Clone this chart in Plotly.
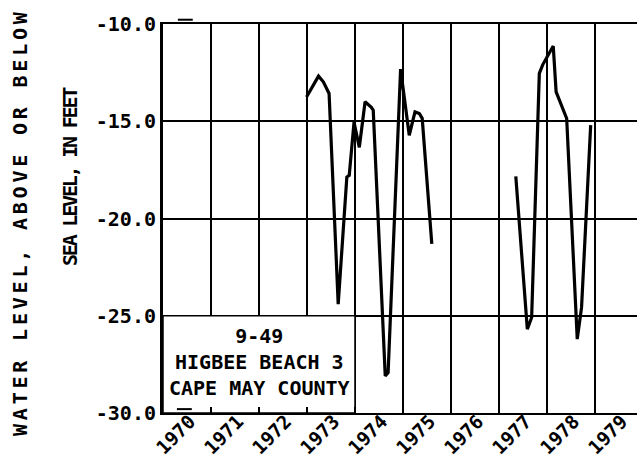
import plotly.graph_objects as go

years = [1970, 1971, 1972, 1973, 1974, 1975, 1976, 1977, 1978, 1979]
year_labels = [str(y) for y in years]
y_ticks = [-10, -15, -20, -25, -30]
y_tick_labels = ["-10.0", "-15.0", "-20.0", "-25.0", "-30.0"]

seg1_x = [1972.99, 1973.24, 1973.34, 1973.46, 1973.65, 1973.83, 1973.88, 1973.98,
          1974.09, 1974.21, 1974.34, 1974.38, 1974.63, 1974.69, 1974.95, 1975.01,
          1975.13, 1975.25, 1975.34, 1975.40, 1975.60]
seg1_y = [-13.75, -12.68, -12.97, -13.57, -24.4, -17.87, -17.78, -15.05,
          -16.34, -14.0, -14.28, -14.43, -28.09, -27.92, -12.32, -13.4,
          -15.72, -14.52, -14.6, -14.85, -21.3]

seg2_x = [1977.35, 1977.59, 1977.68, 1977.84, 1977.91, 1978.13, 1978.19, 1978.41,
          1978.63, 1978.72, 1978.91]
seg2_y = [-17.84, -25.69, -25.09, -12.54, -12.1, -11.13, -13.49, -14.86,
          -26.2, -24.57, -15.2]

title_line1 = "WATER LEVEL, ABOVE OR BELOW"
title_line2 = "SEA LEVEL, IN FEET"
box_text = ["9-49", "HIGBEE BEACH 3", "CAPE MAY COUNTY"]

FONT = "DejaVu Sans Mono"

fig = go.Figure()
for xs, ys in [(seg1_x, seg1_y), (seg2_x, seg2_y)]:
    fig.add_trace(go.Scatter(x=xs, y=ys, mode="lines",
                             line=dict(color="black", width=3.2),
                             showlegend=False, hoverinfo="skip"))

fig.update_layout(
    width=637, height=463,
    margin=dict(l=163, r=0, t=24, b=50, autoexpand=False),
    paper_bgcolor="white", plot_bgcolor="white",
    showlegend=False,
    xaxis=dict(range=[1970, 1979.875], tickmode="array", tickvals=years,
               ticktext=year_labels, tickangle=-45, ticklabelshift=27,
               ticklabelstandoff=-12, automargin=False,
               tickfont=dict(family=FONT, size=19, color="black", weight="bold"),
               showgrid=True, gridcolor="black", gridwidth=2,
               showline=True, linecolor="black", linewidth=2, mirror=True,
               ticks="inside", ticklen=6, tickwidth=1.5, tickcolor="black",
               zeroline=False, fixedrange=True),
    yaxis=dict(range=[-30, -10], tickmode="array", tickvals=y_ticks,
               ticktext=y_tick_labels, automargin=False,
               tickfont=dict(family=FONT, size=20, color="black", weight="bold"),
               showgrid=True, gridcolor="black", gridwidth=2,
               showline=True, linecolor="black", linewidth=3,
               ticks="", zeroline=False, fixedrange=True),
)

# station label box
fig.add_shape(type="rect", xref="x", yref="y", x0=1970, x1=1974, y0=-30, y1=-25,
              fillcolor="white", line=dict(color="black", width=1.5), layer="between")
fig.add_annotation(xref="x", yref="y", x=1972, y=-27.4,
                   text="<br>".join(box_text), showarrow=False,
                   font=dict(family=FONT, size=20, color="black", weight="bold"),
                   align="center")

# small record marks
fig.add_shape(type="line", xref="x", yref="paper", x0=1970.31, x1=1970.62,
              y0=1.011, y1=1.011, line=dict(color="black", width=2))
fig.add_shape(type="line", xref="x", yref="y", x0=1970.29, x1=1970.6,
              y0=-29.8, y1=-29.8, line=dict(color="black", width=2), layer="above")

# y-axis titles
fig.add_annotation(xref="paper", yref="paper", x=(20 - 163) / 474, y=(413 - 222) / 389,
                   text='<span style="letter-spacing:3.8px">' + title_line1 + '</span>',
                   textangle=-90, showarrow=False, xanchor="center", yanchor="middle",
                   font=dict(family=FONT, size=20, color="black", weight="bold"))
fig.add_annotation(xref="paper", yref="paper", x=(70 - 163) / 474, y=(413 - 177) / 389,
                   text='<span style="letter-spacing:-2.2px">' + title_line2 + '</span>',
                   textangle=-90, showarrow=False, xanchor="center", yanchor="middle",
                   font=dict(family=FONT, size=20, color="black", weight="bold"))

fig.write_html("out.html")
